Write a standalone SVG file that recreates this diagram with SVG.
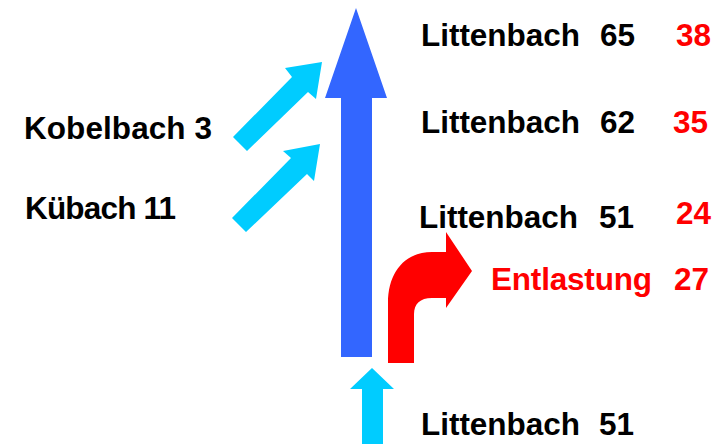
<svg xmlns="http://www.w3.org/2000/svg" width="717" height="444" viewBox="0 0 717 444">
<style>
text{font-family:"Liberation Sans",Arial,sans-serif;font-weight:bold;font-size:31.5px}
.k{fill:#000}
.r{fill:#ff0000}
.cy{fill:#00ccff}
</style>
<rect width="717" height="444" fill="#fff"/>
<g id="connectors">
<path id="main" d="M356,8 L387,98 L372,98 L372,357 L341,357 L341,98 L325,98 Z" fill="#3366ff"/>
<path id="kobel-arrow" class="cy" d="M233,137 L292,77 L285,68 L322,62 L316,99 L308,92 L247,151 Z"/>
<path id="kuebach-arrow" class="cy" d="M232,218 L291,158 L283,151 L320,144 L314,181 L307,174 L246,232 Z"/>
<path id="inflow-arrow" class="cy" d="M372,368 L394,389 L383,389 L383,444 L362,444 L362,389 L350,389 Z"/>
<path id="relief-arrow" d="M388,363 L388,303 C388,272 405,252 432,252 L446,252 L446,232 L472,271 L446,308 L446,298 L432,298 C420,298 414,304 414,314 L414,363 Z" fill="#ff0000"/>
</g>
<g id="n1"><text class="k" x="421" y="46" textLength="159">Littenbach</text><text class="k" x="600" y="46">65</text><text class="r" x="676" y="46">38</text></g>
<g id="n2"><text class="k" x="421" y="133" textLength="159">Littenbach</text><text class="k" x="600" y="133">62</text><text class="r" x="673" y="133">35</text></g>
<g id="n3"><text class="k" x="419" y="228" textLength="159">Littenbach</text><text class="k" x="599" y="228">51</text><text class="r" x="676" y="224">24</text></g>
<g id="n4"><text class="r" x="491" y="290" textLength="161">Entlastung</text><text class="r" x="674" y="290">27</text></g>
<g id="n5"><text class="k" x="421" y="435" textLength="159">Littenbach</text><text class="k" x="599" y="435">51</text></g>
<g id="n6"><text class="k" x="24" y="139" textLength="188">Kobelbach 3</text></g>
<g id="n7"><text class="k" x="25" y="219" textLength="151">Kübach 11</text></g>
</svg>
